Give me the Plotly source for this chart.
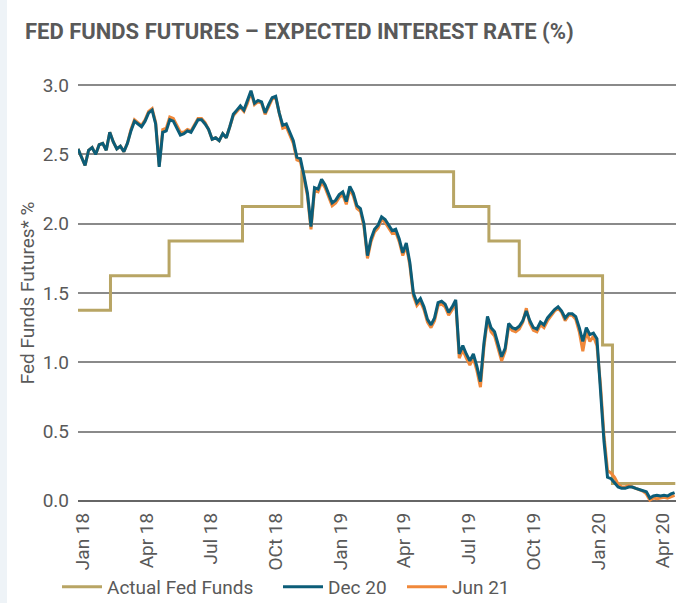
import pandas as pd
import plotly.graph_objects as go

# ---------------- data ----------------
fed_dates = ["2017-12-25", "2018-02-09", "2018-05-03", "2018-08-15", "2018-11-07",
             "2019-06-10", "2019-07-30", "2019-09-11", "2020-01-07", "2020-01-21",
             "2020-04-19"]
fed_rate = [1.375, 1.625, 1.875, 2.125, 2.375, 2.125, 1.875, 1.625, 1.125, 0.125, 0.125]

fut_dates = pd.date_range("2017-12-25", periods=170, freq="5D")

dec20 = [2.54, 2.48, 2.42, 2.53, 2.55, 2.50, 2.57, 2.58, 2.53, 2.66,
         2.59, 2.54, 2.56, 2.52, 2.58, 2.67, 2.74, 2.72, 2.70, 2.74,
         2.80, 2.82, 2.72, 2.41, 2.66, 2.67, 2.75, 2.74, 2.69, 2.64,
         2.65, 2.67, 2.66, 2.70, 2.75, 2.75, 2.72, 2.68, 2.61, 2.62,
         2.60, 2.65, 2.62, 2.70, 2.79, 2.82, 2.85, 2.82, 2.89, 2.96,
         2.87, 2.89, 2.88, 2.80, 2.86, 2.91, 2.92, 2.80, 2.71, 2.72,
         2.66, 2.60, 2.48, 2.47, 2.35, 2.22, 1.98, 2.26, 2.25, 2.32,
         2.28, 2.21, 2.15, 2.17, 2.21, 2.23, 2.16, 2.27, 2.22, 2.13,
         2.11, 2.00, 1.77, 1.89, 1.96, 1.99, 2.05, 2.03, 1.99, 1.95,
         1.96, 1.89, 1.79, 1.86, 1.72, 1.50, 1.43, 1.46, 1.40, 1.31,
         1.27, 1.32, 1.43, 1.44, 1.42, 1.36, 1.40, 1.45, 1.06, 1.12,
         1.06, 1.01, 1.06, 0.97, 0.86, 1.14, 1.33, 1.25, 1.22, 1.12,
         1.04, 1.10, 1.28, 1.25, 1.24, 1.26, 1.30, 1.37, 1.30, 1.25,
         1.24, 1.29, 1.27, 1.32, 1.35, 1.38, 1.40, 1.37, 1.32, 1.35,
         1.35, 1.33, 1.25, 1.15, 1.25, 1.20, 1.21, 1.17, 0.80, 0.43,
         0.17, 0.16, 0.13, 0.10, 0.09, 0.09, 0.10, 0.10, 0.09, 0.08,
         0.07, 0.065, 0.02, 0.035, 0.04, 0.035, 0.04, 0.035, 0.05, 0.06]

jun21 = [2.54, 2.48, 2.42, 2.53, 2.55, 2.50, 2.57, 2.58, 2.53, 2.66,
         2.59, 2.54, 2.56, 2.52, 2.58, 2.68, 2.75, 2.73, 2.71, 2.75,
         2.81, 2.83, 2.73, 2.42, 2.68, 2.69, 2.77, 2.76, 2.71, 2.66,
         2.66, 2.68, 2.67, 2.71, 2.76, 2.76, 2.73, 2.68, 2.61, 2.62,
         2.60, 2.65, 2.62, 2.70, 2.78, 2.81, 2.84, 2.81, 2.87, 2.95,
         2.86, 2.88, 2.87, 2.79, 2.85, 2.90, 2.91, 2.79, 2.69, 2.70,
         2.64, 2.58, 2.46, 2.45, 2.33, 2.20, 1.96, 2.24, 2.23, 2.30,
         2.26, 2.19, 2.13, 2.15, 2.19, 2.21, 2.14, 2.25, 2.20, 2.11,
         2.09, 1.98, 1.75, 1.87, 1.94, 1.97, 2.03, 2.01, 1.97, 1.93,
         1.94, 1.87, 1.77, 1.84, 1.70, 1.48, 1.41, 1.44, 1.38, 1.29,
         1.25, 1.30, 1.41, 1.42, 1.40, 1.34, 1.38, 1.43, 1.03, 1.09,
         1.03, 0.98, 1.03, 0.94, 0.82, 1.11, 1.31, 1.22, 1.19, 1.09,
         1.01, 1.08, 1.26, 1.23, 1.22, 1.24, 1.29, 1.39, 1.28, 1.23,
         1.22, 1.27, 1.25, 1.30, 1.34, 1.37, 1.39, 1.36, 1.30, 1.34,
         1.34, 1.31, 1.22, 1.08, 1.22, 1.15, 1.19, 1.12, 0.84, 0.47,
         0.22, 0.20, 0.17, 0.12, 0.10, 0.10, 0.11, 0.10, 0.09, 0.08,
         0.07, 0.05, 0.005, 0.02, 0.015, 0.02, 0.025, 0.02, 0.03, 0.04]

tick_dates = ["2018-01-01", "2018-04-01", "2018-07-01", "2018-10-01", "2019-01-01",
              "2019-04-01", "2019-07-01", "2019-10-01", "2020-01-01", "2020-04-01"]
tick_labels = ["Jan 18", "Apr 18", "Jul 18", "OCt 18", "Jan 19",
               "Apr 19", "Jul 19", "OCt 19", "Jan 20", "Apr 20"]

# ---------------- style ----------------
GOLD = "#b8a564"
TEAL = "#0c5d78"
ORANGE = "#f0883a"
TXT = "#595959"
FONT = "Roboto"

W, H = 681, 603
ML, MR, MT, MB = 78, 5, 81, 98

fig = go.Figure()
fig.add_trace(go.Scatter(x=fed_dates, y=fed_rate, mode="lines", name="Actual Fed Funds",
                         line=dict(color=GOLD, width=3, shape="hv"), legend="legend"))
fig.add_trace(go.Scatter(x=fut_dates, y=jun21, mode="lines", name="Jun 21",
                         line=dict(color=ORANGE, width=3), legend="legend3"))
fig.add_trace(go.Scatter(x=fut_dates, y=dec20, mode="lines", name="Dec 20",
                         line=dict(color=TEAL, width=3), legend="legend2"))

pw = W - ML - MR
ph = H - MT - MB
# light frame band on left and top of page
fig.add_shape(type="rect", xref="paper", yref="paper",
              x0=-ML / pw, x1=(7 - ML) / pw, y0=-MB / ph, y1=(H - MT) / ph,
              fillcolor="#eef3f7", line_width=0, layer="below")
fig.add_shape(type="rect", xref="paper", yref="paper",
              x0=-ML / pw, x1=(W - ML) / pw, y0=(H - MT - 6) / ph, y1=(H - MT) / ph,
              fillcolor="#eef3f7", line_width=0, layer="below")

leg_common = dict(orientation="h", xref="container", yref="container",
                  xanchor="left", yanchor="middle", y=1 - 587 / H,
                  font=dict(size=19, color=TXT), itemwidth=40,
                  bgcolor="rgba(0,0,0,0)")

fig.update_layout(
    width=W, height=H,
    margin=dict(l=ML, r=MR, t=MT, b=MB, autoexpand=False),
    paper_bgcolor="white", plot_bgcolor="white",
    font=dict(family=FONT, color=TXT, size=18),
    title=dict(text="FED FUNDS FUTURES \u2013 EXPECTED INTEREST RATE (%)",
               x=25 / W, xanchor="left", y=1 - 31 / H, yanchor="middle",
               font=dict(family=FONT, size=22, color=TXT, weight="bold")),
    showlegend=True,
    legend=dict(x=57 / W, **leg_common),
    legend2=dict(x=278 / W, **leg_common),
    legend3=dict(x=402 / W, **leg_common),
)
fig.update_xaxes(type="date", range=["2017-12-25", "2020-04-20"],
                 tickvals=tick_dates, ticktext=tick_labels, tickangle=-90,
                 showgrid=False, showline=False, ticks="", automargin=False,
                 ticklabelstandoff=3,
                 tickfont=dict(size=19, color=TXT))
fig.update_yaxes(range=[-0.03, 3.03], tickvals=[0, 0.5, 1.0, 1.5, 2.0, 2.5, 3.0],
                 tickformat=".1f", showgrid=True, gridcolor="#8a8a8a", gridwidth=1.5,
                 zeroline=True, zerolinecolor="#666666", zerolinewidth=1.5,
                 showline=False, ticks="", ticklabelstandoff=8, automargin=False,
                 tickfont=dict(size=19, color=TXT),
                 title=dict(text="Fed Funds Futures* %", standoff=2,
                            font=dict(size=19, color=TXT)))

fig.write_html("out.html", config={"displayModeBar": False},
               post_script="document.body.style.margin='0px';")
